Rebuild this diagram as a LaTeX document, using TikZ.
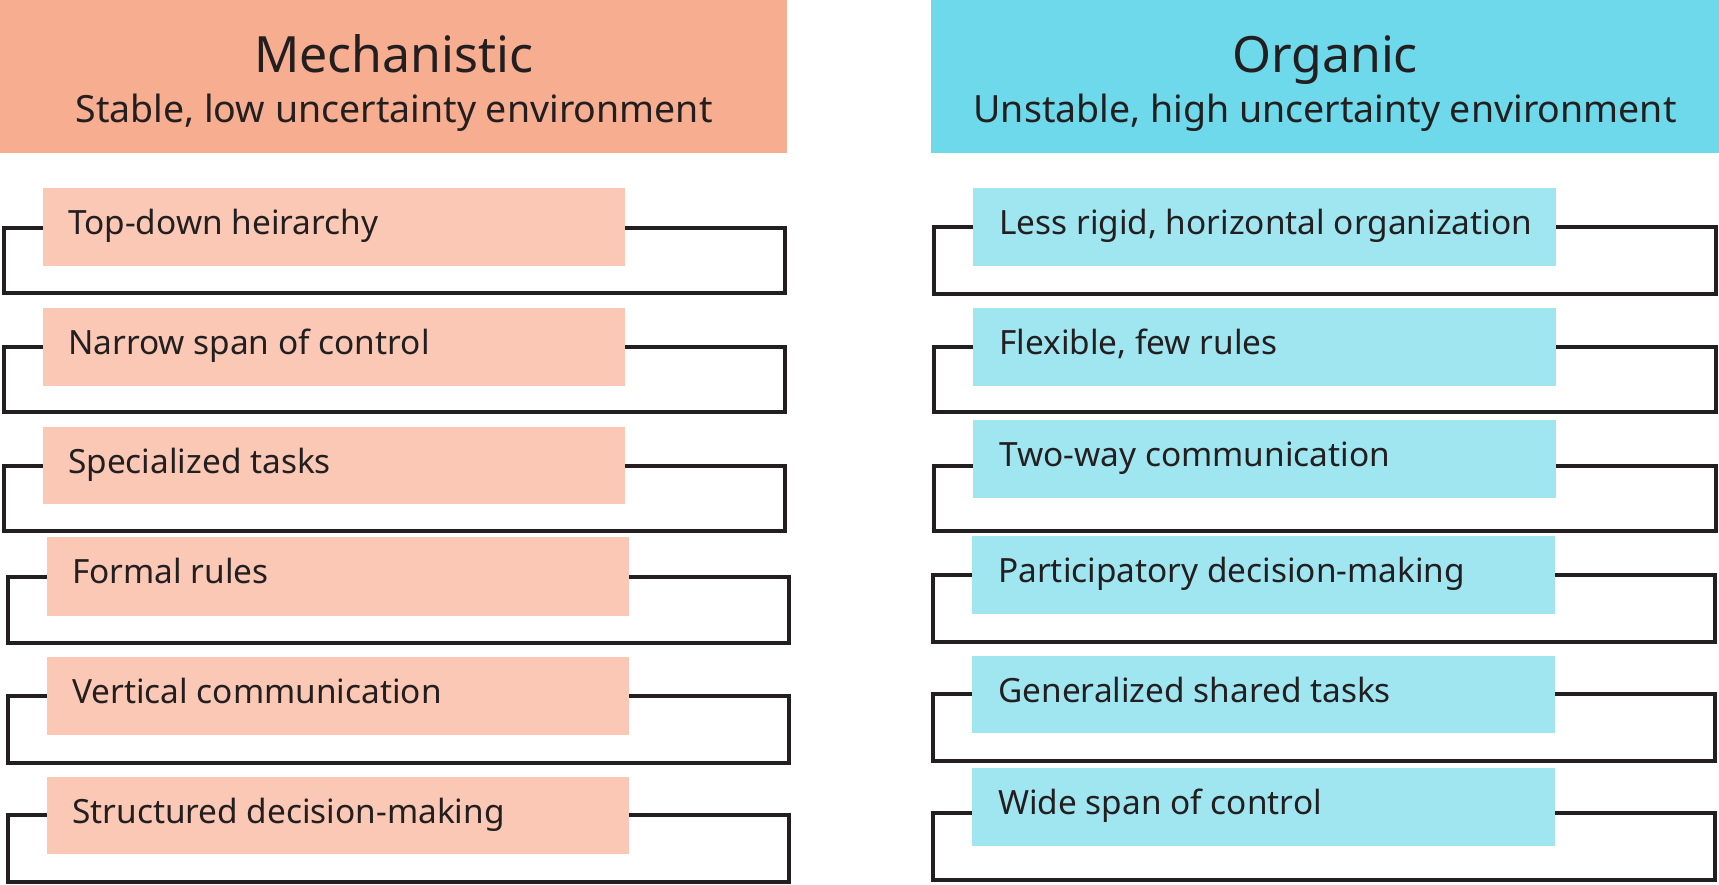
\documentclass[tikz,border=0pt]{standalone}
\usepackage{fontspec}
\setmainfont{Noto Sans}
\begin{document}
\definecolor{mechhead}{HTML}{F7AD90}
\definecolor{mechbox}{HTML}{FAC8B5}
\definecolor{orghead}{HTML}{6DD9EB}
\definecolor{orgbox}{HTML}{A0E6F1}
\definecolor{ink}{HTML}{231F20}
\tikzset{
  headbox/.style={draw=none, inner sep=0pt, anchor=north west},
  itembox/.style={draw=none, inner sep=0pt, anchor=north west},
  itemtext/.style={anchor=base west, inner sep=0pt, text=ink, font=\fontsize{33.4}{40}\selectfont},
  titletext/.style={anchor=base, inner sep=0pt, text=ink, font=\fontsize{50}{60}\selectfont},
  subtext/.style={anchor=base, inner sep=0pt, text=ink, font=\fontsize{37.5}{44}\selectfont},
  bracket/.style={draw=ink, line width=3.2pt, line join=miter},
}
% filled item box: #1 name, #2 fill, #3 left, #4 right, #5 top, #6 bottom
\newcommand{\itemrow}[6]{%
  \path (#3,#5) coordinate (#1tl);
  \node[itembox, fill=#2, minimum width=#4-#3, minimum height=#6-#5] (#1) at (#1tl) {};
}
% open frame behind an item box:
% #1 box name, #2 frame left, #3 frame right, #4 frame top, #5 frame bottom
\newcommand{\itemframe}[5]{%
  \coordinate (#1a) at (#2,#4);
  \coordinate (#1b) at (#2,#5);
  \coordinate (#1c) at (#3,#5);
  \coordinate (#1d) at (#3,#4);
  \draw[bracket] (#1.west |- #1a) -- (#1a) -- (#1b) -- (#1c) -- (#1d) -- (#1.east |- #1d);
}
\begin{tikzpicture}[x=1pt, y=-1pt]
\useasboundingbox (0,0) rectangle (1719,884);

% column headings
\node[headbox, fill=mechhead, minimum width=787pt, minimum height=153pt] (mhead) at (0,0) {};
\node[titletext] (mtitle) at (394,72) {Mechanistic};
\node[subtext] (msub) at (394,122) {Stable, low uncertainty environment};

\node[headbox, fill=orghead, minimum width=788pt, minimum height=153pt] (ohead) at (931,0) {};
\node[titletext] (otitle) at (1325,72) {Organic};
\node[subtext] (osub) at (1325,122) {Unstable, high uncertainty environment};

% mechanistic items
\itemrow{ma}{mechbox}{43}{625}{188}{266}
\itemframe{ma}{4}{785}{228}{293}
\node[itemtext] (mat) at (68,234) {Top-down heirarchy};

\itemrow{mb}{mechbox}{43}{625}{308}{386}
\itemframe{mb}{4}{785}{347}{412}
\node[itemtext] (mbt) at (68,354) {Narrow span of control};

\itemrow{mc}{mechbox}{43}{625}{427}{504}
\itemframe{mc}{4}{785}{466}{531}
\node[itemtext] (mct) at (68,473) {Specialized tasks};

\itemrow{md}{mechbox}{47}{629}{537}{616}
\itemframe{md}{8}{789}{577}{643}
\node[itemtext] (mdt) at (72,583) {Formal rules};

\itemrow{me}{mechbox}{47}{629}{657}{735}
\itemframe{me}{8}{789}{696}{763}
\node[itemtext] (met) at (72,703) {Vertical communication};

\itemrow{mf}{mechbox}{47}{629}{777}{854}
\itemframe{mf}{8}{789}{815}{882}
\node[itemtext] (mft) at (72,823) {Structured decision-making};

% organic items
\itemrow{oa}{orgbox}{973}{1556}{188}{266}
\itemframe{oa}{934}{1716}{227}{294}
\node[itemtext] (oat) at (999,234) {Less rigid, horizontal organization};

\itemrow{ob}{orgbox}{973}{1556}{308}{386}
\itemframe{ob}{934}{1716}{347}{412}
\node[itemtext] (obt) at (999,354) {Flexible, few rules};

\itemrow{oc}{orgbox}{973}{1556}{420}{498}
\itemframe{oc}{934}{1716}{466}{531}
\node[itemtext] (oct) at (999,466) {Two-way communication};

\itemrow{od}{orgbox}{972}{1555}{536}{614}
\itemframe{od}{933}{1715}{575}{642}
\node[itemtext] (odt) at (998,582) {Participatory decision-making};

\itemrow{oe}{orgbox}{972}{1555}{656}{733}
\itemframe{oe}{933}{1715}{694}{761}
\node[itemtext] (oet) at (998,702) {Generalized shared tasks};

\itemrow{of}{orgbox}{972}{1555}{768}{846}
\itemframe{of}{933}{1715}{813}{880}
\node[itemtext] (oft) at (998,814) {Wide span of control};
\end{tikzpicture}
\end{document}
